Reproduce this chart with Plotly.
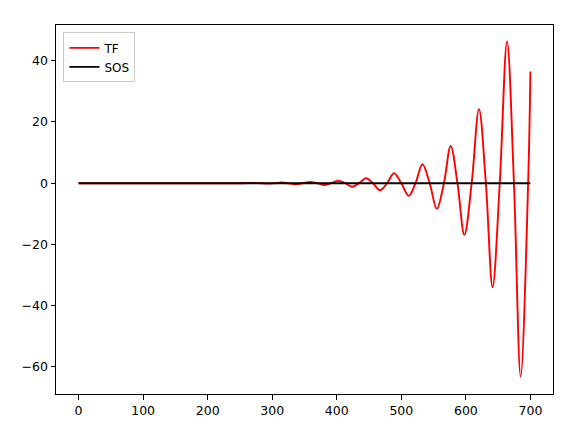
import plotly.graph_objects as go

# TF response: extrema and zero crossings
tf_x = [0, 250, 271, 282, 293, 304, 315, 325, 336.4, 347, 358.2, 369, 380, 391,
        401.8, 413, 423.6, 434.5, 445.4, 456, 467, 478, 488.7, 500, 511.5, 522,
        532.7, 544, 555, 566, 576.5, 587, 597.7, 609, 620.3, 631, 641.4, 652.5,
        663.8, 674.5, 684.9, 696.5, 700]
tf_y = [0, 0, 0.1, 0, -0.15, 0, 0.21, 0, -0.3, 0, 0.41, 0, -0.58, 0,
        0.82, 0, -1.15, 0, 1.6, 0, -2.3, 0, 3.27, 0, -4.15, 0,
        6.2, 0, -8.4, 0, 12.2, 0, -16.9, 0, 24.2, 0, -34, 0,
        46.3, 0, -63.2, 0, 36.5]

# SOS response: flat at zero
sos_x = [0, 700]
sos_y = [0, 0]

x_ticks = [0, 100, 200, 300, 400, 500, 600, 700]
y_ticks = [-60, -40, -20, 0, 20, 40]

fig = go.Figure()
fig.add_trace(go.Scatter(x=tf_x, y=tf_y, mode="lines", name="TF",
                         line=dict(color="red", width=1.9, shape="spline", smoothing=1)))
fig.add_trace(go.Scatter(x=sos_x, y=sos_y, mode="lines", name="SOS",
                         line=dict(color="black", width=1.9)))

axis_common = dict(showgrid=False, zeroline=False, showline=True, linecolor="black",
                   linewidth=1, mirror=True, ticks="outside", ticklen=4.5,
                   tickcolor="black", tickwidth=1, automargin=False,
                   tickfont=dict(family="DejaVu Sans", size=12.5, color="black"))

fig.update_layout(
    width=576, height=425,
    margin=dict(l=48, r=31, t=17, b=39),
    paper_bgcolor="white", plot_bgcolor="white",
    xaxis=dict(range=[-35, 735], tickvals=x_ticks, **axis_common),
    yaxis=dict(range=[-68.9, 51.7], tickvals=y_ticks, **axis_common),
    legend=dict(x=0.015, y=0.98, xanchor="left", yanchor="top",
                bgcolor="rgba(255,255,255,0.8)", bordercolor="#cccccc", borderwidth=1,
                font=dict(family="DejaVu Sans", size=12, color="black"),
                itemwidth=30, tracegroupgap=0),
    showlegend=True,
)

fig.write_html("out.html")
